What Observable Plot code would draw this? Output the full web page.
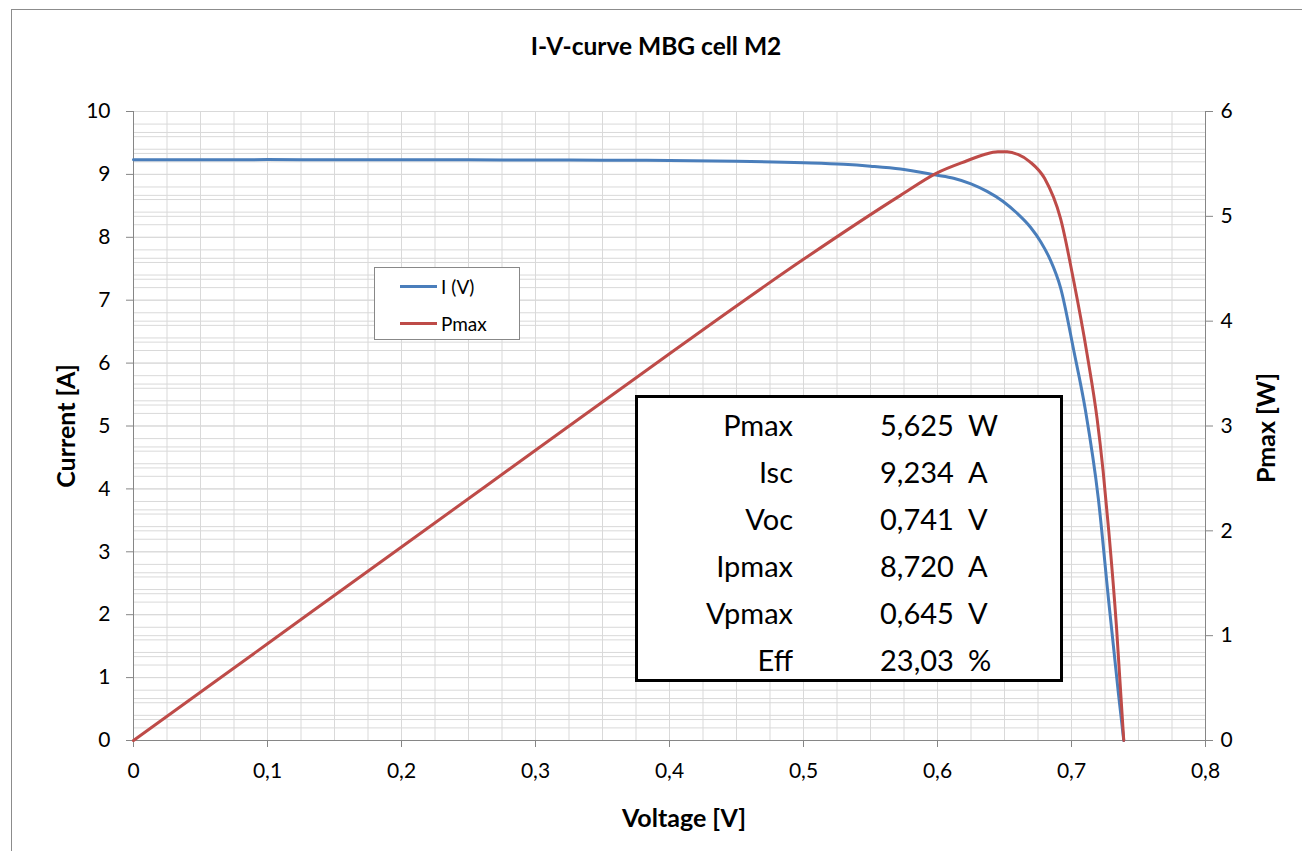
<!DOCTYPE html>
<html>
<head>
<meta charset="utf-8">
<script src="https://cdn.jsdelivr.net/npm/d3@7"></script>
<script src="https://cdn.jsdelivr.net/npm/@observablehq/plot@0.6"></script>
<style>
  html, body { margin: 0; padding: 0; background: #fff; overflow: hidden; }
  body { width: 1302px; height: 851px; position: relative; font-family: Lato, "Open Sans", sans-serif; }
  #frame { position: absolute; left: 11px; top: 9px; width: 1400px; height: 1000px; border: 1px solid #8c8c8c; box-sizing: border-box; }
  #chart { position: absolute; left: 0; top: 0; }
  .lbl { position: absolute; font-weight: bold; color: #000; white-space: nowrap; }
  #title { left: 656px; top: 45px; transform: translate(-50%, -50%); font-size: 24.5px; }
  #xlab { left: 684px; top: 817px; transform: translate(-50%, -50%); font-size: 25px; }
  #ylab { left: 65px; top: 426px; transform: translate(-50%, -50%) rotate(-90deg); font-size: 25px; }
  #y2lab { left: 1265px; top: 428px; transform: translate(-50%, -50%) rotate(-90deg); font-size: 25px; }
  #legend { position: absolute; left: 374px; top: 267px; width: 146px; height: 73px; border: 1px solid #888; background: #fff; box-sizing: border-box; }
  .lgrow { position: absolute; left: 25px; height: 20px; display: flex; align-items: center; font-size: 19px; }
  .lgline { width: 37px; height: 3px; margin-right: 4px; }
  #stats { position: absolute; left: 635px; top: 395px; width: 428px; height: 287px; border: 3px solid #000; background: #fff; box-sizing: border-box; }
  .srow { position: absolute; left: 0; width: 100%; height: 40px; font-size: 29px; color: #000; }
  .srow span { position: absolute; top: 50%; transform: translateY(-50%); white-space: nowrap; }
</style>
</head>
<body>
<div id="frame"></div>
<div id="chart"></div>
<div id="title" class="lbl">I-V-curve MBG cell M2</div>
<div id="xlab" class="lbl">Voltage [V]</div>
<div id="ylab" class="lbl">Current [A]</div>
<div id="y2lab" class="lbl">Pmax [W]</div>
<div id="legend"></div>
<div id="stats"></div>
<script>
// ---- Data ----
const ivVoltage = [0, 0.05, 0.1, 0.15, 0.2, 0.25, 0.3, 0.35, 0.4, 0.45, 0.5, 0.53, 0.55, 0.5724, 0.599, 0.612, 0.625, 0.637, 0.649, 0.659, 0.6694, 0.677, 0.684, 0.6918, 0.7017, 0.7104, 0.720, 0.7276, 0.735, 0.739];
const ivCurrent = [9.234, 9.232, 9.235, 9.231, 9.233, 9.231, 9.229, 9.226, 9.221, 9.21, 9.185, 9.16, 9.13, 9.085, 8.99, 8.94, 8.85, 8.73, 8.57, 8.39, 8.16, 7.93, 7.65, 7.2, 6.2, 5.25, 3.85, 2.25, 0.75, 0];

const pVoltage = [0, 0.1, 0.2, 0.3, 0.4, 0.5, 0.5724, 0.599, 0.622, 0.635, 0.645, 0.652, 0.66, 0.669, 0.68, 0.6918, 0.7017, 0.7117, 0.7191, 0.7236, 0.7278, 0.7336, 0.739];
const pPower = [0, 0.923, 1.846, 2.768, 3.69, 4.59, 5.2, 5.41, 5.53, 5.59, 5.615, 5.615, 5.59, 5.52, 5.36, 4.98, 4.38, 3.68, 3.07, 2.57, 2.0, 1.08, 0];

const xTicks = [0, 0.1, 0.2, 0.3, 0.4, 0.5, 0.6, 0.7, 0.8];
const currentTicks = [0, 1, 2, 3, 4, 5, 6, 7, 8, 9, 10];
const powerTicks = [0, 1, 2, 3, 4, 5, 6];

const seriesNames = ["I (V)", "Pmax"];
const seriesColors = ["#4A7EBB", "#BE4B48"];

const statLabels = ["Pmax", "Isc", "Voc", "Ipmax", "Vpmax", "Eff"];
const statValues = ["5,625", "9,234", "0,741", "8,720", "0,645", "23,03"];
const statUnits = ["W", "A", "V", "A", "V", "%"];

// ---- helpers ----
const currentMax = 10, powerMax = 6;
const toLeft = w => w * currentMax / powerMax;
const comma = d => d === 0 ? "0" : String(+d.toFixed(2)).replace(".", ",");

const ivData = ivVoltage.map((v, i) => ({v, y: ivCurrent[i]}));
const pData = pVoltage.map((v, i) => ({v, y: toLeft(pPower[i])}));

const vGrid = d3.range(0, 0.8001, 0.025);
const aGrid = d3.range(0, 10.001, 0.2);
const wGrid = d3.range(0, 6.001, 0.2).map(toLeft);
const gridColor = "#d9d9d9";
const axisColor = "#868686";

const plot = Plot.plot({
  width: 1302,
  height: 851,
  marginLeft: 133,
  marginRight: 97,
  marginTop: 111,
  marginBottom: 111,
  style: {fontFamily: "Lato, 'Open Sans', sans-serif", fontSize: "21px", color: "#000", background: "transparent"},
  x: {domain: [0, 0.8]},
  y: {domain: [0, 10]},
  marks: [
    Plot.ruleX(vGrid, {stroke: gridColor, strokeWidth: 1}),
    Plot.ruleY(aGrid, {stroke: gridColor, strokeWidth: 1}),
    Plot.ruleY(wGrid, {stroke: gridColor, strokeWidth: 1}),
    Plot.ruleX([0, 0.8], {stroke: axisColor, strokeWidth: 1}),
    Plot.ruleY([0], {stroke: axisColor, strokeWidth: 1}),
    Plot.axisX({ticks: xTicks, tickFormat: comma, tickSize: 7, tickPadding: 16, stroke: axisColor, fill: "#000", fontSize: 21, label: null}),
    Plot.axisY({ticks: currentTicks, tickFormat: d => String(d), tickSize: 7, tickPadding: 16, stroke: axisColor, fill: "#000", fontSize: 21, label: null}),
    Plot.axisY({anchor: "right", ticks: powerTicks.map(toLeft), tickFormat: d => String(Math.round(d * powerMax / currentMax)), tickSize: 7, tickPadding: 8, stroke: axisColor, fill: "#000", fontSize: 21, label: null}),
    Plot.line(ivData, {x: "v", y: "y", stroke: seriesColors[0], strokeWidth: 3, curve: "monotone-x"}),
    Plot.line(pData, {x: "v", y: "y", stroke: seriesColors[1], strokeWidth: 3, curve: "monotone-x"})
  ]
});
document.getElementById("chart").appendChild(plot);

// legend
const legend = document.getElementById("legend");
seriesNames.forEach((name, i) => {
  const row = document.createElement("div");
  row.className = "lgrow";
  row.style.top = (8 + i * 37) + "px";
  const ln = document.createElement("div");
  ln.className = "lgline";
  ln.style.background = seriesColors[i];
  const tx = document.createElement("span");
  tx.textContent = name;
  row.appendChild(ln);
  row.appendChild(tx);
  legend.appendChild(row);
});

// stats box
const stats = document.getElementById("stats");
statLabels.forEach((lab, i) => {
  const row = document.createElement("div");
  row.className = "srow";
  row.style.top = (6 + i * 47) + "px";
  const a = document.createElement("span");
  a.textContent = lab; a.style.right = (428 - 161) + "px";
  const b = document.createElement("span");
  b.textContent = statValues[i]; b.style.left = "242px";
  const c = document.createElement("span");
  c.textContent = statUnits[i]; c.style.left = "330px";
  row.appendChild(a); row.appendChild(b); row.appendChild(c);
  stats.appendChild(row);
});
</script>
</body>
</html>
